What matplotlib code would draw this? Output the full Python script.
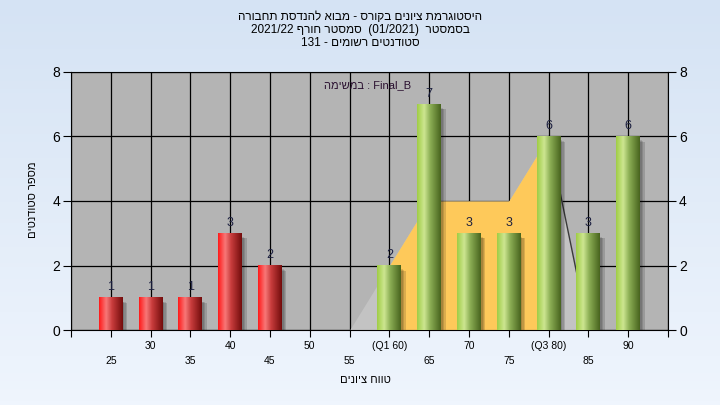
import numpy as np
import matplotlib.pyplot as plt
from matplotlib.patches import Rectangle

plt.rcParams['font.family'] = ['Liberation Sans', 'DejaVu Sans']


def rtl(s):
    # matplotlib has no bidi: hebrew runs are written in visual order
    return s[::-1]


grades = [25, 30, 35, 40, 45, 50, 55, 60, 65, 70, 75, 80, 85, 90]
tick_labels = ['25', '30', '35', '40', '45', '50', '55', '(Q1 60)', '65', '70',
               '75', '(Q3 80)', '85', '90']
counts = [1, 1, 1, 3, 2, 0, 0, 2, 7, 3, 3, 6, 3, 6]
area_vals = [0, 0, 0, 0, 0, 0, 0, 2, 4, 4, 4, 6, 0, 0]
pass_mark = 55
q1_grade, q3_grade = 60, 80

title_lines = [
    rtl('היסטוגרמת ציונים בקורס - מבוא להנדסת תחבורה'),
    '2021/22 ' + rtl('סמסטר חורף') + '  (01/2021)  ' + rtl('בסמסטר'),
    '131 - ' + rtl('סטודנטים רשומים'),
]
legend_text = rtl('במשימה') + ' : Final_B'
x_title = rtl('טווח ציונים')
y_title = rtl('מספר סטודנטים')


def gradient(stops, n=80):
    pos = np.array([p for p, _ in stops])
    cols = np.array([c for _, c in stops], dtype=float) / 255
    t = np.linspace(0, 1, n)
    out = np.stack([np.interp(t, pos, cols[:, k]) for k in range(3)], axis=-1)
    return out[np.newaxis, :, :]


red_grad = gradient([(0, (255, 25, 25)), (0.3, (248, 120, 120)), (0.55, (200, 60, 60)),
                     (1, (115, 12, 12))])
green_grad = gradient([(0, (160, 205, 70)), (0.3, (205, 230, 145)), (0.55, (140, 175, 85)),
                       (1, (72, 100, 30))])

fig = plt.figure(figsize=(7.2, 4.05), dpi=100)

bg = fig.add_axes([0, 0, 1, 1], zorder=-10)
vert = np.linspace(0, 1, 100)[:, np.newaxis]
top_c = np.array([213, 227, 244]) / 255
bot_c = np.array([239, 245, 253]) / 255
bg_img = top_c + (bot_c - top_c) * vert[:, :, np.newaxis] * np.ones((1, 2, 1))
bg.imshow(bg_img, aspect='auto', extent=[0, 1, 0, 1])
bg.axis('off')

ax = fig.add_axes([71 / 720, 1 - 330 / 405, 597 / 720, 258 / 405])
ax.set_facecolor('#b4b4b4')
x = np.arange(len(grades))
w = 0.6

# area behind the bars: light grey, yellow between Q1 and Q3
ax.fill_between(x, area_vals, color='#c3c3c3', lw=0, zorder=1)
i1, i3 = grades.index(q1_grade), grades.index(q3_grade)
ax.fill_between(x[i1:i3 + 1], area_vals[i1:i3 + 1], color='#fec95a', lw=0, zorder=1.1)
ax.plot(x[i3:i3 + 2], area_vals[i3:i3 + 2], color='#3a3a3a', lw=1, zorder=1.2)

for i, c in enumerate(counts):
    if c == 0:
        continue
    for k, a in enumerate([0.12, 0.12, 0.14]):
        off = 0.04 + 0.035 * k
        ax.add_patch(Rectangle((i - w / 2 + off, -0.04), w, c - 0.08 - 0.02 * k,
                               color='black', alpha=a, lw=0, zorder=2, clip_on=False))
    grad = green_grad if grades[i] >= pass_mark else red_grad
    ax.imshow(grad, extent=[i - w / 2, i + w / 2, 0, c], aspect='auto',
              interpolation='bilinear', zorder=3)
    ax.text(i, c + 0.33, str(c), ha='center', va='center', fontsize=9,
            color='#1c2040', zorder=4)

ax.set_xlim(-1, len(grades))
ax.set_ylim(0, 8)
ax.set_yticks([0, 2, 4, 6, 8])
ax.set_xticks(np.arange(-1, len(grades) + 1))
labels = ['']
for i, t in enumerate(tick_labels):
    labels.append(t if i % 2 == 1 else '\n' + t)
labels.append('')
ax.set_xticklabels(labels, fontsize=7.5)
for lbl in ax.get_xticklabels():
    lbl.set_linespacing(1.65)
ax.tick_params(axis='x', direction='out', length=5, color='black', pad=3)
ax.tick_params(axis='y', direction='out', length=6, color='black', left=True,
               right=True, labelleft=True, labelright=True, labelsize=10, pad=2)
ax.grid(True, color='black', lw=0.9)
ax.set_axisbelow(True)
for s in ax.spines.values():
    s.set_color('black')

ax.text(0.497, 0.95, legend_text, transform=ax.transAxes, ha='center', va='center',
        fontsize=8, color='#2a1030')

for k, line in enumerate(title_lines):
    fig.text(0.5, 1 - (17 + 13 * k) / 405, line, ha='center', va='center', fontsize=8.5)
fig.text(365 / 720, 1 - 380 / 405, x_title, ha='center', va='center', fontsize=8)
fig.text(33 / 720, 1 - 200 / 405, y_title, ha='center', va='center', fontsize=8,
         rotation=90)

fig.savefig('out.png', dpi=100)
